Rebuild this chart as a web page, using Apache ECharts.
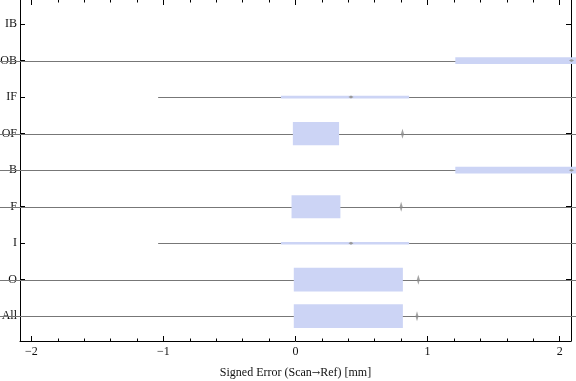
<!DOCTYPE html>
<html>
<head>
<meta charset="utf-8">
<script src="https://cdn.jsdelivr.net/npm/echarts@6/dist/echarts.min.js"></script>
<style>html,body{margin:0;padding:0;background:#fff;}#c{width:576px;height:381px;}</style>
</head>
<body>
<div id="c"></div>
<script>
// Categories, bottom to top
const categories = ['All', 'O', 'I', 'F', 'B', 'OF', 'IF', 'OB', 'IB'];
// Box-whisker statistics (mm); null = not present / not visible
const whiskerLow  = [-2.3, -2.3, -1.04, -2.3, -2.3, -2.3, -1.04, -2.3, null];
const quartile1   = [-0.013, -0.013, -0.11, -0.03, 1.21, -0.02, -0.11, 1.21, null];
const medians     = [null, null, 0.42, null, 2.09, null, 0.42, 2.09, null];
const quartile3   = [0.813, 0.813, 0.86, 0.34, 2.3, 0.33, 0.86, 2.3, null];
const whiskerHigh = [2.3, 2.3, 2.3, 2.3, 2.3, 2.3, 2.3, 2.3, null];
// Relative box thickness (fraction of category spacing)
const boxWeight   = [0.65, 0.65, 0.07, 0.63, 0.19, 0.63, 0.07, 0.19, 0];
// Outliers: [category, value]
const outliers = [['All', 0.92], ['O', 0.93], ['F', 0.80], ['OF', 0.81]];
// Tick values
const xMajorTicks = [-2, -1, 0, 1, 2];
const xMinorTicks = [];
for (let i = -10; i <= 10; i++) { if (i % 5 !== 0) xMinorTicks.push(i / 5); }
const xTickLabels = ['\u22122', '\u22121', '0', '1', '2'];

const X_MIN = -2.086, X_MAX = 2.086, Y_MIN = 0.32, Y_MAX = 9.66;
const catPos = categories.map((c, i) => i + 1);

const boxData = categories.map((c, i) => [i + 1, whiskerLow[i], quartile1[i], medians[i], quartile3[i], whiskerHigh[i], boxWeight[i]])
  .filter(d => d[1] !== null);

function renderItem(params, api) {
  const pos = api.value(0);
  const lo = api.value(1), q1 = api.value(2), med = api.value(3), q3 = api.value(4), hi = api.value(5), w = api.value(6);
  const unit = api.size([0, 1])[1];
  const yc = api.coord([0, pos])[1];
  const yl = Math.round(yc) + 0.5;
  const xlo = api.coord([lo, pos])[0], xhi = api.coord([hi, pos])[0];
  const xq1 = api.coord([q1, pos])[0], xq3 = api.coord([q3, pos])[0];
  const h = Math.max(2, w * unit);
  const children = [
    { type: 'line', shape: { x1: xlo, y1: yl, x2: xhi, y2: yl }, style: { stroke: '#777', lineWidth: 1 } },
    { type: 'rect', shape: { x: xq1, y: yc - h / 2, width: xq3 - xq1, height: h }, style: { fill: '#ccd4f5' } }
  ];
  if (!isNaN(med)) {
    const xm = api.coord([med, pos])[0];
    children.push({ type: 'polygon', shape: { points: [[xm - 2.5, yc], [xm, yc - 1.5], [xm + 2.5, yc], [xm, yc + 1.5]] }, style: { fill: '#999' } });
  }
  return { type: 'group', children: children };
}

const outlierData = outliers.map(o => [o[1], categories.indexOf(o[0]) + 1]);

const labelFont = { fontFamily: 'Liberation Serif', fontSize: 12, color: '#111' };

const chart = echarts.init(document.getElementById('c'), null, { renderer: 'canvas' });
chart.setOption({
  animation: false,
  backgroundColor: '#fff',
  grid: { left: 20, right: 5, top: 0, bottom: 40, containLabel: false, outerBoundsMode: 'none' },
  xAxis: [
    {
      type: 'value', position: 'bottom', min: X_MIN, max: X_MAX,
      axisLine: { show: true, onZero: false, lineStyle: { color: '#000', width: 1 } },
      axisTick: { show: true, inside: true, length: 5, customValues: xMajorTicks, lineStyle: { color: '#000' } },
      axisLabel: Object.assign({ margin: 5, customValues: xMajorTicks, formatter: v => xTickLabels[xMajorTicks.indexOf(Math.round(v))] }, labelFont),
      splitLine: { show: false },
      name: 'Signed Error (Scan{a|\u2192}Ref) [mm]', nameLocation: 'middle', nameGap: 26,
      nameTextStyle: {
        fontFamily: 'Liberation Serif', fontSize: 12, color: '#111',
        rich: { a: { fontFamily: 'DejaVu Serif', fontSize: 10, color: '#111' } }
      }
    },
    {
      type: 'value', position: 'bottom', min: X_MIN, max: X_MAX,
      axisLine: { show: false, onZero: false },
      axisTick: { show: true, inside: true, length: 2.5, customValues: xMinorTicks, lineStyle: { color: '#000' } },
      axisLabel: { show: false }, splitLine: { show: false }
    },
    {
      type: 'value', position: 'top', min: X_MIN, max: X_MAX,
      axisLine: { show: false, onZero: false },
      axisTick: { show: true, inside: true, length: 5, customValues: xMajorTicks, lineStyle: { color: '#000' } },
      axisLabel: { show: false }, splitLine: { show: false }
    },
    {
      type: 'value', position: 'top', min: X_MIN, max: X_MAX,
      axisLine: { show: false, onZero: false },
      axisTick: { show: true, inside: true, length: 2.5, customValues: xMinorTicks, lineStyle: { color: '#000' } },
      axisLabel: { show: false }, splitLine: { show: false }
    }
  ],
  yAxis: [
    {
      type: 'value', position: 'left', min: Y_MIN, max: Y_MAX,
      axisLine: { show: true, onZero: false, lineStyle: { color: '#000', width: 1 } },
      axisTick: { show: true, inside: true, length: 5, customValues: catPos, lineStyle: { color: '#000' } },
      axisLabel: Object.assign({ margin: 3, customValues: catPos, formatter: v => categories[Math.round(v) - 1] }, labelFont),
      splitLine: { show: false }
    },
    {
      type: 'value', position: 'right', min: Y_MIN, max: Y_MAX,
      axisLine: { show: true, onZero: false, lineStyle: { color: '#000', width: 1 } },
      axisTick: { show: true, inside: true, length: 5, customValues: catPos, lineStyle: { color: '#000' } },
      axisLabel: { show: false }, splitLine: { show: false }
    }
  ],
  series: [
    {
      type: 'custom', xAxisIndex: 0, yAxisIndex: 0, clip: false, z: 1,
      renderItem: renderItem,
      encode: { x: [1, 2, 3, 4, 5], y: 0 },
      data: boxData
    },
    {
      type: 'scatter', xAxisIndex: 0, yAxisIndex: 0, z: 3,
      symbol: 'diamond', symbolSize: [3, 10],
      itemStyle: { color: '#8a8a8a' },
      data: outlierData
    }
  ]
});
</script>
</body>
</html>
